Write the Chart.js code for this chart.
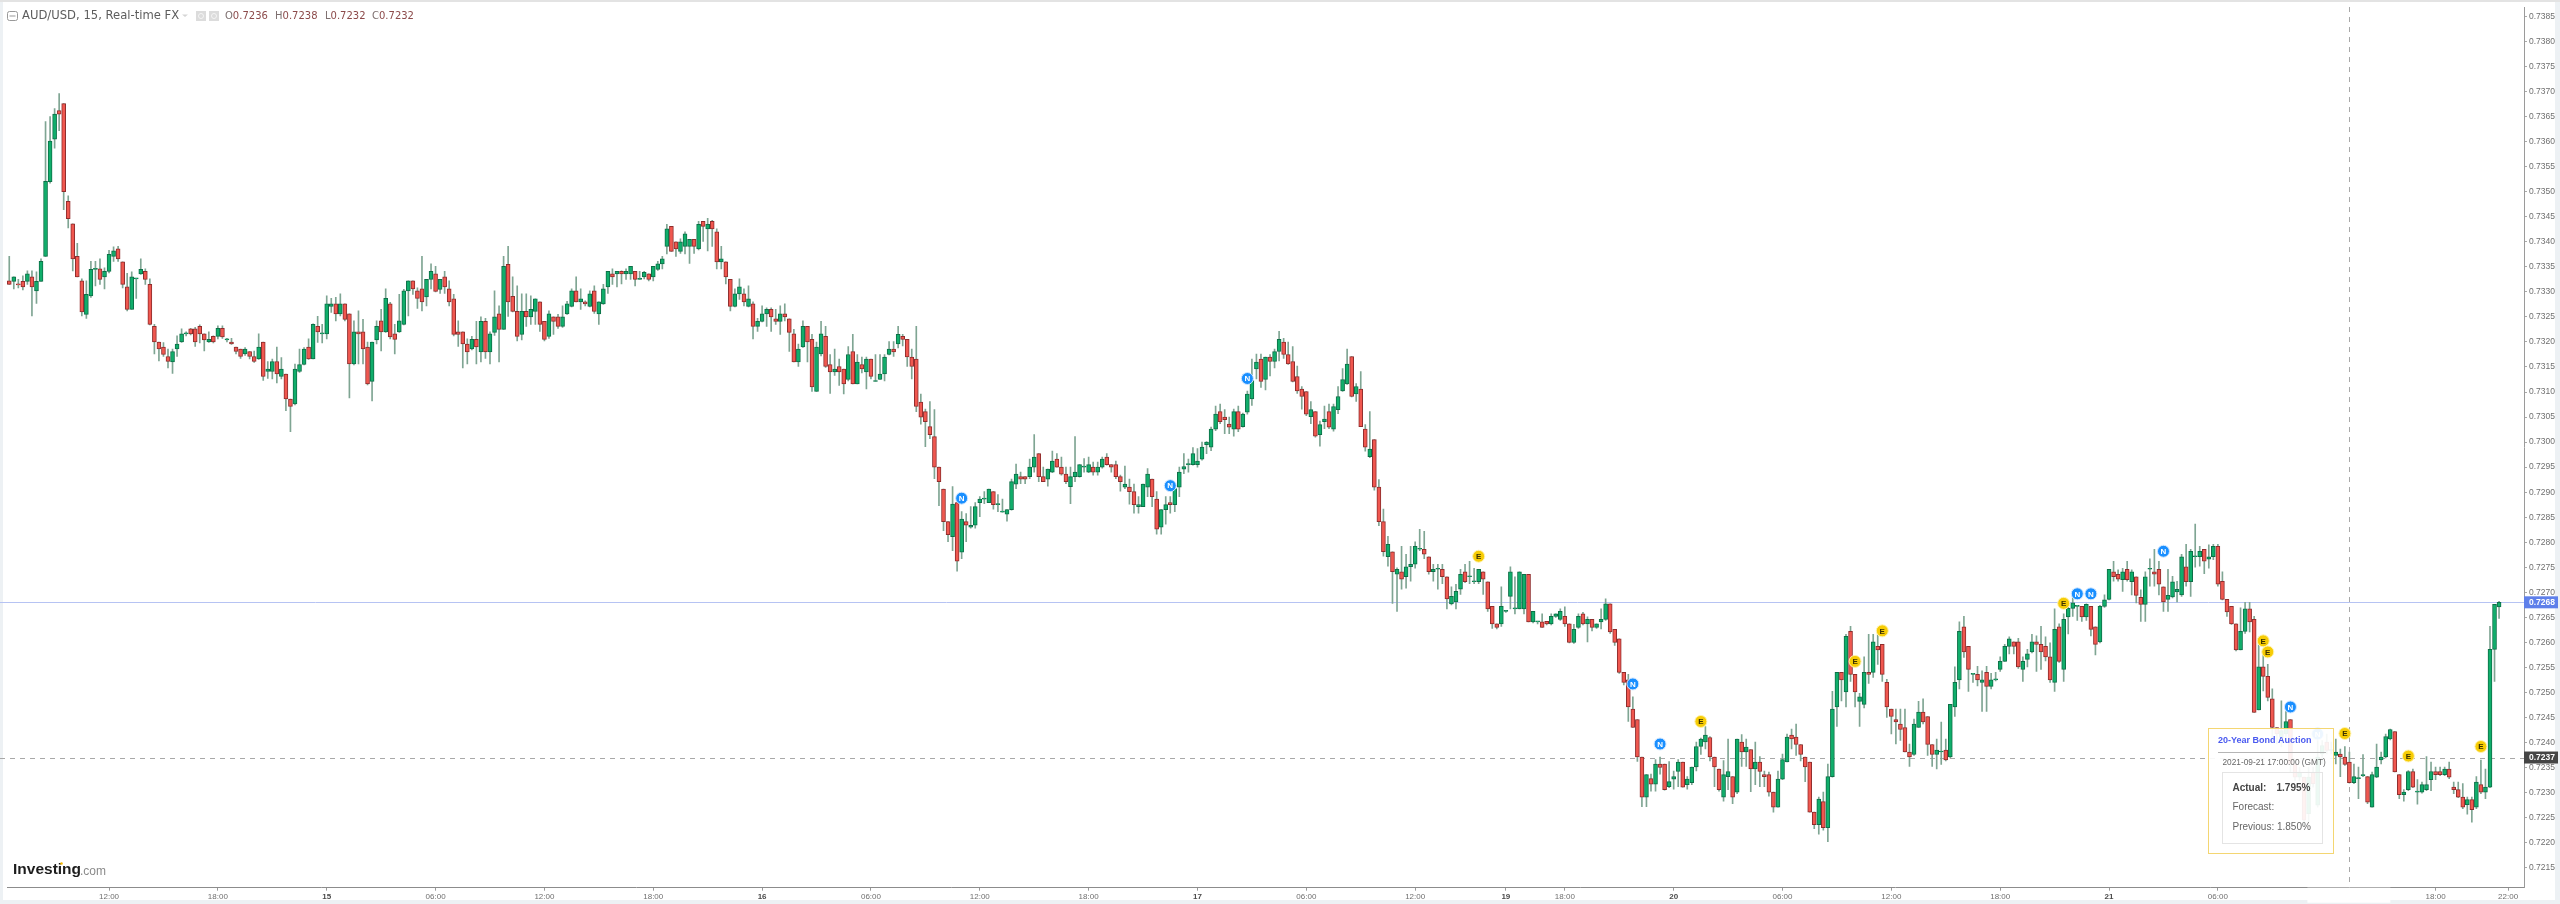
<!DOCTYPE html>
<html>
<head>
<meta charset="utf-8">
<title>AUD/USD, 15</title>
<script src="https://cdn.jsdelivr.net/npm/chart.js@4"></script>
<style>
    html, body { margin: 0; padding: 0; background: #fff; }
    #wrap { position: relative; width: 2560px; height: 904px; }
    canvas { display: block; }
</style>
</head>
<body>
<div id="wrap"><canvas id="chart" width="2560" height="904"></canvas></div>
<script>
// ============================
// Data (prices in 1e-5, one entry per 15 min candle)
// ============================

const opens = [
    73322,73321,73315,73321,73321,73330,73302,73321,73371,73520,
    73605,73662,73676,73481,73436,73371,73322,73255,73292,73345,
    73346,73330,73341,73371,73386,73360,73310,73265,73326,73336,
    73341,73315,73231,73200,73190,73171,73160,73186,73200,73216,
    73226,73226,73231,73216,73200,73211,73211,73227,73204,73200,
    73190,73186,73176,73181,73171,73166,73200,73141,73141,73161,
    73131,73136,73086,73076,73141,73155,73190,73166,73231,73216,
    73216,73271,73276,73256,73276,73256,73156,73220,73220,73190,
    73121,73204,73242,73220,73276,73216,73220,73235,73302,73322,
    73302,73306,73290,73325,73336,73305,73330,73306,73286,73220,
    73220,73196,73186,73205,73180,73241,73180,73219,73256,73225,
    73355,73291,73261,73215,73261,73250,73261,73280,73241,73211,
    73250,73250,73231,73256,73271,73302,73280,73280,73271,73302,
    73256,73276,73310,73336,73336,73341,73336,73336,73341,73325,
    73330,73336,73330,73345,73356,73391,73431,73400,73381,73391,
    73391,73405,73386,73441,73426,73441,73420,73360,73360,73325,
    73271,73296,73296,73271,73276,73231,73241,73256,73265,73246,
    73241,73256,73246,73216,73160,73190,73231,73205,73101,73176,
    73211,73155,73140,73151,73146,73125,73181,73116,73155,73140,
    73166,73121,73125,73136,73175,73186,73196,73211,73205,73170,
    73166,73080,73061,73031,73011,72950,72906,72841,72811,72879,
    72780,72841,72830,72834,72879,72886,72879,72901,72875,72860,
    72856,72865,72916,72931,72931,72931,72950,72977,72931,72926,
    72940,72966,72950,72936,72911,72931,72931,72950,72940,72950,
    72940,72950,72970,72955,72955,72931,72910,72910,72901,72871,
    72871,72910,72926,72886,72830,72865,72879,72875,72910,72946,
    72955,72955,72955,72966,72995,72990,73026,73061,73050,73036,
    73026,73061,73031,73060,73086,73146,73166,73125,73170,73161,
    73181,73200,73175,73161,73131,73106,73101,73051,73061,73015,
    73041,73061,73026,73065,73102,73116,73171,73096,73106,73026,
    72971,73005,72910,72841,72771,72781,72736,72741,72731,72751,
    72756,72786,72786,72771,72741,72746,72746,72731,72677,72681,
    72706,72741,72731,72721,72721,72741,72721,72672,72637,72637,
    72662,72692,72667,72667,72667,72736,72641,72641,72641,72642,
    72637,72652,72646,72652,72637,72600,72630,72657,72637,72646,
    72630,72641,72646,72677,72626,72607,72540,72525,72467,72446,
    72371,72291,72328,72317,72357,72357,72312,72327,72342,72361,
    72316,72320,72351,72392,72401,72410,72371,72347,72291,72332,
    72332,72301,72401,72381,72386,72347,72361,72336,72336,72301,
    72271,72327,72361,72415,72411,72396,72371,72361,72261,72236,
    72282,72230,72332,72471,72540,72501,72622,72536,72482,72476,
    72540,72540,72592,72596,72520,72467,72446,72437,72430,72381,
    72376,72430,72461,72452,72396,72376,72381,72385,72371,72471,
    72525,72631,72592,72536,72536,72520,72540,72512,72525,72546,
    72562,72592,72601,72601,72546,72566,72581,72601,72596,72592,
    72571,72520,72631,72546,72651,72668,72672,72672,72651,72672,
    72631,72601,72672,72686,72741,72736,72725,72746,72721,72731,
    72690,72676,72746,72741,72746,72711,72686,72691,72701,72695,
    72751,72721,72771,72771,72786,72766,72771,72792,72722,72686,
    72672,72637,72585,72622,72667,72646,72465,72551,72532,72487,
    72430,72410,72417,72446,72357,72331,72331,72258,72341,72275,
    72377,72401,72384,72374,72377,72371,72361,72320,72328,72334,
    72332,72271,72331,72365,72371,72407,72422,72336,72296,72306,
    72342,72301,72301,72306,72326,72342,72342,72336,72347,72311,
    72306,72291,72276,72286,72271,72316,72301,72311,72586,72671
];

const highs = [
    73371,73330,73325,73332,73342,73342,73340,73366,73640,73650,
    73666,73696,73676,73492,73436,73397,73326,73322,73361,73361,
    73366,73348,73383,73390,73391,73360,73337,73340,73326,73366,
    73346,73326,73235,73200,73199,73186,73186,73212,73226,73220,
    73227,73229,73234,73216,73220,73212,73232,73232,73207,73207,
    73190,73186,73189,73181,73182,73216,73200,73161,73166,73190,
    73169,73136,73086,73156,73186,73189,73206,73236,73251,73235,
    73292,73287,73289,73296,73276,73256,73242,73262,73245,73200,
    73200,73242,73265,73306,73279,73235,73295,73305,73322,73322,
    73308,73371,73325,73356,73351,73325,73341,73322,73295,73242,
    73220,73206,73211,73241,73250,73247,73220,73302,73272,73371,
    73391,73330,73312,73296,73296,73292,73286,73280,73241,73262,
    73250,73255,73272,73281,73306,73330,73306,73282,73302,73312,
    73280,73315,73341,73346,73341,73342,73346,73351,73341,73341,
    73341,73336,73351,73361,73371,73435,73431,73400,73406,73420,
    73405,73405,73441,73441,73447,73443,73426,73391,73360,73325,
    73306,73326,73306,73312,73280,73247,73272,73268,73268,73265,
    73272,73276,73246,73225,73196,73242,73231,73215,73200,73241,
    73231,73175,73186,73166,73146,73191,73215,73175,73170,73170,
    73166,73175,73175,73175,73201,73201,73231,73215,73205,73186,
    73231,73096,73066,73081,73065,72950,72906,72841,72911,72879,
    72861,72857,72871,72879,72891,72901,72906,72901,72895,72886,
    72865,72926,72956,72940,72931,72966,73015,72977,72950,72946,
    72982,72977,72970,72950,72950,73011,72955,72967,72970,72960,
    72960,72970,72977,72955,72962,72934,72952,72926,72916,72891,
    72916,72947,72926,72901,72865,72891,72891,72914,72950,72977,
    72966,72989,72987,73000,73001,73030,73072,73076,73065,73050,
    73066,73072,73058,73102,73166,73176,73176,73170,73175,73186,
    73221,73207,73200,73191,73152,73111,73101,73081,73061,73042,
    73072,73076,73076,73111,73147,73186,73171,73117,73141,73035,
    73061,73005,72925,72866,72812,72781,72749,72792,72776,72792,
    72801,72826,72822,72771,72756,72756,72756,72731,72711,72716,
    72746,72756,72762,72748,72746,72741,72721,72672,72637,72711,
    72664,72751,72731,72741,72736,72736,72662,72641,72657,72642,
    72657,72657,72667,72671,72637,72636,72657,72660,72651,72646,
    72637,72667,72687,72677,72626,72607,72540,72536,72491,72446,
    72371,72336,72337,72366,72371,72357,72362,72343,72366,72361,
    72332,72351,72401,72409,72432,72412,72371,72347,72364,72407,
    72332,72407,72416,72407,72386,72401,72372,72343,72341,72301,
    72343,72377,72417,72427,72437,72396,72371,72361,72261,72291,
    72301,72357,72502,72540,72540,72616,72632,72536,72498,72571,
    72616,72616,72616,72596,72526,72467,72467,72467,72467,72397,
    72447,72482,72487,72452,72396,72407,72441,72407,72476,72551,
    72641,72652,72592,72536,72552,72543,72552,72538,72540,72571,
    72596,72611,72601,72608,72571,72586,72616,72613,72632,72611,
    72599,72667,72637,72657,72682,72692,72672,72672,72677,72672,
    72631,72674,72695,72746,72762,72745,72748,72762,72745,72731,
    72705,72741,72767,72786,72762,72711,72746,72732,72722,72776,
    72796,72786,72836,72792,72786,72795,72796,72796,72741,72686,
    72672,72637,72669,72680,72680,72652,72596,72576,72556,72507,
    72430,72483,72462,72446,72357,72351,72331,72351,72351,72427,
    72404,72417,72401,72407,72387,72392,72381,72357,72351,72376,
    72332,72341,72397,72381,72417,72427,72422,72336,72306,72344,
    72347,72326,72321,72372,72361,72351,72351,72351,72361,72321,
    72321,72318,72291,72291,72332,72365,72347,72632,72676,72682
];

const lows = [
    73315,73306,73308,73304,73315,73252,73277,73321,73371,73517,
    73587,73622,73464,73428,73342,73330,73252,73247,73289,73312,
    73315,73306,73338,73361,73361,73308,73262,73265,73287,73335,
    73315,73234,73176,73162,73171,73148,73137,73171,73199,73212,
    73214,73191,73198,73182,73199,73198,73206,73207,73200,73195,
    73176,73167,73173,73166,73159,73165,73123,73127,73126,73118,
    73126,73063,73021,73074,73139,73154,73165,73166,73199,73198,
    73206,73259,73242,73252,73242,73088,73154,73156,73156,73114,
    73082,73196,73182,73219,73206,73176,73219,73234,73252,73295,
    73267,73262,73272,73306,73300,73297,73297,73272,73212,73191,
    73148,73156,73184,73156,73160,73167,73156,73213,73160,73225,
    73251,73260,73202,73204,73231,73235,73235,73221,73202,73207,
    73215,73227,73229,73255,73270,73280,73265,73272,73270,73257,
    73235,73275,73297,73315,73310,73316,73325,73325,73312,73325,
    73326,73322,73322,73343,73346,73376,73381,73371,73377,73376,
    73357,73377,73384,73401,73382,73391,73346,73346,73316,73262,
    73270,73285,73272,73270,73206,73221,73240,73231,73221,73235,
    73215,73242,73181,73160,73151,73189,73160,73101,73101,73172,
    73149,73097,73133,73113,73096,73122,73116,73116,73138,73106,
    73126,73121,73125,73122,73174,73171,73188,73192,73151,73126,
    73061,73036,72991,73007,72927,72873,72823,72801,72783,72742,
    72767,72801,72828,72828,72851,72877,72879,72866,72861,72860,
    72842,72864,72907,72917,72917,72927,72940,72921,72921,72912,
    72939,72950,72934,72917,72877,72921,72930,72940,72939,72934,
    72934,72948,72954,72940,72927,72902,72907,72876,72858,72858,
    72871,72891,72871,72816,72816,72836,72858,72861,72891,72937,
    72940,72954,72950,72964,72977,72983,73023,73037,73017,73017,
    73012,73021,73030,73056,73073,73126,73109,73104,73132,73148,
    73162,73167,73155,73120,73097,73066,73053,73037,73010,72992,
    73027,73027,73022,73057,73101,73115,73090,73081,73031,72982,
    72969,72904,72833,72772,72752,72678,72662,72706,72708,72722,
    72748,72783,72767,72736,72722,72706,72717,72667,72675,72667,
    72696,72719,72717,72717,72717,72696,72662,72628,72627,72632,
    72660,72667,72657,72667,72657,72641,72639,72637,72630,72635,
    72635,72650,72644,72632,72599,72598,72628,72635,72601,72623,
    72628,72627,72644,72618,72594,72538,72515,72442,72430,72362,
    72272,72272,72303,72303,72337,72305,72310,72307,72312,72311,
    72307,72316,72343,72376,72387,72363,72312,72303,72283,72306,
    72278,72298,72352,72352,72302,72316,72312,72312,72293,72261,
    72271,72326,72361,72387,72374,72363,72322,72261,72228,72217,
    72225,72202,72331,72432,72483,72471,72522,72471,72432,72469,
    72518,72530,72556,72522,72450,72417,72397,72404,72381,72352,
    72374,72430,72437,72374,72352,72347,72356,72363,72369,72452,
    72507,72570,72502,72520,72513,72462,72462,72507,72523,72542,
    72562,72577,72577,72548,72522,72551,72579,72542,72546,72563,
    72520,72502,72560,72522,72617,72652,72644,72642,72644,72613,
    72575,72599,72670,72685,72722,72722,72702,72722,72695,72679,
    72642,72642,72712,72712,72695,72662,72662,72689,72681,72692,
    72712,72692,72750,72752,72737,72748,72765,72712,72685,72652,
    72636,72583,72585,72618,72621,72460,72465,72503,72483,72404,
    72397,72391,72410,72341,72324,72324,72232,72241,72311,72271,
    72357,72377,72377,72357,72332,72354,72319,72318,72288,72332,
    72278,72271,72330,72357,72369,72405,72341,72288,72283,72304,
    72310,72277,72299,72304,72304,72326,72334,72334,72328,72298,
    72290,72268,72257,72241,72268,72298,72288,72310,72522,72648
];

const closes = [
    73315,73330,73314,73310,73336,73310,73321,73361,73521,73601,
    73655,73655,73500,73446,73366,73330,73260,73295,73345,73345,
    73325,73341,73375,73382,73366,73315,73265,73330,73326,73345,
    73325,73235,73200,73186,73175,73161,73181,73196,73216,73216,
    73216,73200,73216,73204,73205,73200,73227,73210,73204,73196,
    73181,73171,73186,73171,73161,73190,73131,73146,73161,73136,
    73146,73086,73071,73146,73155,73186,73166,73235,73220,73216,
    73276,73276,73256,73276,73245,73156,73220,73216,73186,73116,
    73200,73231,73220,73287,73210,73205,73242,73302,73322,73306,
    73287,73280,73325,73341,73301,73325,73310,73280,73215,73215,
    73196,73180,73205,73190,73241,73180,73216,73250,73225,73351,
    73280,73261,73211,73261,73250,73265,73286,73235,73205,73256,
    73241,73231,73250,73276,73302,73280,73286,73276,73296,73261,
    73280,73306,73341,73330,73341,73336,73341,73351,73325,73325,
    73339,73325,73351,73356,73366,73426,73381,73386,73400,73416,
    73405,73391,73435,73431,73435,73426,73360,73366,73330,73271,
    73296,73310,73280,73286,73231,73241,73256,73265,73250,73241,
    73256,73250,73219,73160,73186,73231,73200,73110,73190,73216,
    73151,73140,73146,73140,73116,73175,73116,73160,73146,73166,
    73131,73121,73136,73170,73186,73180,73215,73205,73170,73151,
    73071,73050,73041,73015,72950,72921,72841,72815,72876,72762,
    72846,72834,72834,72871,72886,72886,72906,72875,72875,72860,
    72865,72921,72936,72926,72926,72950,72970,72931,72921,72946,
    72962,72950,72936,72921,72931,72940,72955,72950,72955,72940,
    72950,72966,72955,72950,72931,72921,72916,72901,72875,72875,
    72916,72936,72891,72826,72865,72875,72875,72907,72940,72951,
    72955,72977,72962,72990,73000,73026,73056,73041,73045,73030,
    73061,73026,73056,73096,73123,73160,73121,73170,73161,73181,
    73205,73175,73156,73121,73102,73091,73056,73065,73012,73035,
    73046,73030,73071,73091,73125,73156,73091,73111,73031,72990,
    72986,72910,72841,72781,72796,72741,72746,72726,72751,72756,
    72792,72786,72776,72741,72746,72746,72731,72687,72692,72702,
    72736,72721,72731,72721,72746,72726,72667,72637,72630,72672,
    72662,72741,72667,72741,72736,72641,72662,72641,72630,72637,
    72652,72657,72662,72637,72600,72626,72652,72637,72646,72630,
    72637,72646,72677,72621,72600,72540,72520,72471,72430,72371,
    72291,72336,72317,72357,72350,72306,72322,72332,72361,72311,
    72327,72351,72392,72407,72415,72371,72351,72306,72336,72342,
    72291,72407,72381,72391,72347,72361,72342,72332,72301,72271,
    72327,72366,72411,72407,72396,72376,72351,72261,72236,72287,
    72230,72332,72467,72540,72525,72612,72536,72501,72491,72540,
    72536,72601,72585,72536,72471,72452,72441,72426,72381,72371,
    72437,72461,72441,72396,72376,72385,72381,72365,72476,72520,
    72622,72581,72546,72536,72525,72525,72512,72525,72525,72562,
    72592,72607,72592,72551,72562,72577,72601,72596,72581,72571,
    72525,72626,72562,72646,72668,72679,72672,72651,72676,72626,
    72596,72672,72685,72746,72731,72726,72741,72725,72741,72694,
    72676,72731,72746,72736,72716,72681,72694,72721,72706,72771,
    72721,72782,72771,72782,72762,72771,72792,72716,72686,72661,
    72637,72585,72622,72667,72641,72460,72551,72532,72490,72430,
    72417,72424,72442,72357,72331,72341,72245,72331,72318,72371,
    72394,72384,72384,72381,72371,72356,72320,72332,72328,72334,
    72281,72336,72351,72371,72412,72426,72341,72296,72301,72342,
    72311,72301,72316,72316,72342,72336,72336,72347,72331,72306,
    72291,72271,72286,72266,72321,72301,72311,72586,72676,72680
];

// Candle slots on the axis, the last few stay empty
const slotCount = 555;
const categories = Array.from({ length: slotCount }, (_, i) => i);

const xTickSlots = [22, 46, 70, 94, 118, 142, 166, 190, 214, 238, 262, 286, 310, 330, 343, 367, 391, 415, 439, 463, 487, 511, 535, 551];
const xTickLabels = ['12:00', '18:00', '15', '06:00', '12:00', '18:00', '16', '06:00', '12:00', '18:00', '17', '06:00', '12:00', '19', '18:00', '20', '06:00', '12:00', '18:00', '21', '06:00', '12:00', '18:00', '22:00'];

const yTicks = [
    0.7385, 0.7380, 0.7375, 0.7370, 0.7365, 0.7360, 0.7355, 0.7350, 0.7345, 0.7340, 0.7335, 0.7330,
    0.7325, 0.7320, 0.7315, 0.7310, 0.7305, 0.7300, 0.7295, 0.7290, 0.7285, 0.7280, 0.7275, 0.7270,
    0.7265, 0.7260, 0.7255, 0.7250, 0.7245, 0.7240, 0.7235, 0.7230, 0.7225, 0.7220, 0.7215
];

const earningsSlots = [324, 373, 407, 413, 453, 497, 498, 515, 529, 545];
const earningsPrices = [72772, 72442, 72562, 72623, 72678, 72603, 72581, 72418, 72373, 72392];
const newsSlots = [210, 256, 273, 358, 364, 456, 459, 475, 503, 509];
const newsPrices = [72888, 72913, 73127, 72517, 72397, 72697, 72697, 72782, 72471, 72417];

const lastPrice = 0.7268;
const crossPrice = 0.7237;
const crossSlot = 516;

// ============================
// Helpers
// ============================

const PRICE_UNIT = 100000;
const FONT = '"Liberation Sans", Arial, sans-serif';

function markerSeries(slots, prices) {
    const data = new Array(slotCount).fill(null);
    slots.forEach((s, i) => { data[s] = prices[i] / PRICE_UNIT; });
    return data;
}

const isUp = opens.map((o, i) => closes[i] >= o);

function drawText(ctx, text, x, y, font, color, align) {
    ctx.font = font;
    ctx.fillStyle = color;
    ctx.textAlign = align || 'left';
    ctx.textBaseline = 'middle';
    ctx.fillText(text, x, y);
}

// the tick labels must not push the plot area in
function clearScalePadding(scale) {
    scale.paddingTop = 0;
    scale.paddingBottom = 0;
    scale.paddingLeft = 0;
    scale.paddingRight = 0;
}

// ============================
// Page furniture around the chart
// ============================

const furniture = {
    id: 'furniture',
    beforeDraw(chart) {
        const { ctx, width, height } = chart;
        ctx.save();
        ctx.fillStyle = '#ffffff';
        ctx.fillRect(0, 0, width, height);
        ctx.fillStyle = '#edf1f4';
        ctx.fillRect(0, 0, 3, height);
        ctx.fillRect(width - 5, 0, 5, height);
        ctx.fillRect(0, height - 4, width, 4);
        ctx.fillStyle = '#e3e3e3';
        ctx.fillRect(0, 0, width, 2);
        ctx.restore();
    },
    beforeDatasetsDraw(chart) {
        const { ctx, chartArea, scales } = chart;
        const lastY = Math.round(scales.y.getPixelForValue(lastPrice)) + 0.5;
        const crossY = Math.round(scales.y.getPixelForValue(crossPrice)) + 0.5;
        const crossX = Math.round(scales.x.getPixelForValue(crossSlot)) + 0.5;
        ctx.save();
        ctx.lineWidth = 1;
        ctx.strokeStyle = '#b6c3f3';
        ctx.beginPath();
        ctx.moveTo(0, lastY);
        ctx.lineTo(chartArea.right, lastY);
        ctx.stroke();
        ctx.strokeStyle = '#a8a8a8';
        ctx.setLineDash([5, 5]);
        ctx.beginPath();
        ctx.moveTo(0, crossY);
        ctx.lineTo(chartArea.right, crossY);
        ctx.moveTo(crossX, chartArea.top);
        ctx.lineTo(crossX, chartArea.bottom);
        ctx.stroke();
        ctx.restore();
    },
    afterDatasetsDraw(chart) {
        const { ctx } = chart;
        [[0, 'E', '#3a3000'], [1, 'N', '#ffffff']].forEach(([offset, letter, color]) => {
            const meta = chart.getDatasetMeta(2 + offset);
            ctx.save();
            meta.data.forEach((pt, i) => {
                if (meta._parsed[i].y === null || isNaN(pt.y)) return;
                drawText(ctx, letter, pt.x, pt.y + 0.5, 'bold 8px ' + FONT, color, 'center');
            });
            ctx.restore();
        });
    },
    afterDraw(chart) {
        const { ctx, scales, chartArea } = chart;
        ctx.save();

        // legend row
        ctx.strokeStyle = '#999';
        ctx.lineWidth = 1;
        ctx.beginPath();
        ctx.roundRect(7.5, 11.5, 10, 9, 2);
        ctx.moveTo(9.5, 16);
        ctx.lineTo(15.5, 16);
        ctx.stroke();
        drawText(ctx, 'AUD/USD, 15, Real-time FX', 22, 16, '11.6px "DejaVu Sans"', '#5d5d5d');
        ctx.fillStyle = '#d5d5d5';
        ctx.beginPath();
        ctx.moveTo(182, 14.5);
        ctx.lineTo(188, 14.5);
        ctx.lineTo(185, 17);
        ctx.fill();
        ctx.fillStyle = '#dcdcdc';
        ctx.fillRect(196, 11, 10, 10);
        ctx.fillRect(209, 11, 10, 10);
        ctx.strokeStyle = '#f4f4f4';
        ctx.beginPath();
        ctx.arc(201, 16, 2.5, 0, Math.PI * 2);
        ctx.moveTo(216.5, 16);
        ctx.arc(214, 16, 2.5, 0, Math.PI * 2);
        ctx.stroke();
        [['O', '0.7236', 225], ['H', '0.7238', 275], ['L', '0.7232', 325], ['C', '0.7232', 372]].forEach(([name, value, x]) => {
            drawText(ctx, name, x, 16, '10px "DejaVu Sans"', '#7d6f6f');
            const w = ctx.measureText(name).width;
            drawText(ctx, value, x + w, 16, '10px "DejaVu Sans"', '#8c4a4a');
        });

        // logo
        drawText(ctx, 'Investing', 13, 870, 'bold 15.5px ' + FONT, '#1d1d1d');
        drawText(ctx, '.com', 80, 872, '12px ' + FONT, '#8a8a8a');
        ctx.fillStyle = '#f2b705';
        ctx.beginPath();
        ctx.arc(61.5, 863.5, 1.3, 0, Math.PI * 2);
        ctx.fill();

        // event popup, the candles show faintly through it
        ctx.fillStyle = 'rgba(255, 255, 255, 0.92)';
        ctx.fillRect(2208, 728, 126, 125);
        ctx.strokeStyle = '#f4d672';
        ctx.strokeRect(2208.5, 728.5, 125, 125);
        drawText(ctx, '20-Year Bond Auction', 2218, 741, 'bold 9px ' + FONT, '#4a5af0');
        ctx.strokeStyle = '#b5b5b5';
        ctx.beginPath();
        ctx.moveTo(2218, 752.5);
        ctx.lineTo(2326, 752.5);
        ctx.stroke();
        drawText(ctx, '2021-09-21 17:00:00 (GMT)', 2222.5, 763, '8.3px ' + FONT, '#666');
        ctx.strokeStyle = '#e4e4e4';
        ctx.strokeRect(2222.5, 772.5, 100, 71);
        drawText(ctx, 'Actual:', 2232.5, 788, 'bold 10px ' + FONT, '#444');
        drawText(ctx, '1.795%', 2276.5, 788, 'bold 10px ' + FONT, '#444');
        drawText(ctx, 'Forecast:', 2232.5, 807.5, '10px ' + FONT, '#666');
        drawText(ctx, 'Previous: 1.850%', 2232.5, 827, '10px ' + FONT, '#666');

        // axis tags
        const lastY = scales.y.getPixelForValue(lastPrice);
        ctx.fillStyle = '#5f80ea';
        ctx.fillRect(chartArea.right, lastY - 6, 34, 12);
        drawText(ctx, lastPrice.toFixed(4), chartArea.right + 5, lastY + 0.5, 'bold 8.5px ' + FONT, '#fff');
        const crossY = scales.y.getPixelForValue(crossPrice);
        ctx.fillStyle = '#454545';
        ctx.fillRect(chartArea.right, crossY - 6, 34, 12);
        drawText(ctx, crossPrice.toFixed(4), chartArea.right + 5, crossY + 0.5, 'bold 8.5px ' + FONT, '#fff');
        const crossX = scales.x.getPixelForValue(crossSlot);
        ctx.fillRect(crossX - 42, chartArea.bottom, 83, 15);
        drawText(ctx, '2021-09-21 13:15:00', crossX - 0.5, chartArea.bottom + 8, 'bold 8.5px ' + FONT, '#fff', 'center');

        ctx.restore();
    }
};

// ============================
// Chart
// ============================

new Chart(document.getElementById('chart'), {
    type: 'bar',
    data: {
        labels: categories,
        datasets: [
            {
                label: 'Body',
                order: 2,
                data: opens.map((o, i) => [o / PRICE_UNIT, closes[i] / PRICE_UNIT]),
                backgroundColor: isUp.map(up => up ? '#10ae6b' : '#f0574f'),
                borderColor: isUp.map(up => up ? '#0d6f47' : '#8e2d2d'),
                borderWidth: 1,
                borderSkipped: false,
                barThickness: 4,
                minBarLength: 1,
                grouped: false
            },
            {
                label: 'Wick',
                order: 3,
                data: lows.map((l, i) => [l / PRICE_UNIT, highs[i] / PRICE_UNIT]),
                backgroundColor: '#7fa593',
                barThickness: 1,
                grouped: false
            },
            {
                type: 'line',
                label: 'Economic',
                order: 1,
                data: markerSeries(earningsSlots, earningsPrices),
                showLine: false,
                pointStyle: 'circle',
                pointRadius: 6,
                pointBackgroundColor: '#f7cc05',
                pointBorderColor: '#fff3b0',
                pointBorderWidth: 1
            },
            {
                type: 'line',
                label: 'News',
                order: 0,
                data: markerSeries(newsSlots, newsPrices),
                showLine: false,
                pointStyle: 'circle',
                pointRadius: 6,
                pointBackgroundColor: '#1a8fff',
                pointBorderColor: '#d5e9ff',
                pointBorderWidth: 1
            }
        ]
    },
    plugins: [furniture],
    options: {
        responsive: false,
        animation: false,
        events: [],
        layout: {
            padding: { left: 3.73, top: 3, right: 0, bottom: 0 }
        },
        scales: {
            x: {
                type: 'category',
                offset: true,
                afterBuildTicks(scale) {
                    scale.ticks = xTickSlots.map(v => ({ value: v }));
                },
                afterFit(scale) {
                    scale.height = 16.3;
                    clearScalePadding(scale);
                },
                border: { color: '#8c8c8c', width: 1 },
                grid: {
                    offset: false,
                    drawOnChartArea: false,
                    tickLength: 3,
                    tickColor: '#999'
                },
                ticks: {
                    autoSkip: false,
                    maxRotation: 0,
                    padding: 1,
                    callback: value => xTickLabels[xTickSlots.indexOf(value)],
                    color: ctx => xTickLabels[ctx.index] && xTickLabels[ctx.index].length < 3 ? '#4a4a4a' : '#6f6f6f',
                    font: ctx => ({
                        family: FONT,
                        size: 8,
                        weight: xTickLabels[ctx.index] && xTickLabels[ctx.index].length < 3 ? 'bold' : 'normal'
                    })
                }
            },
            y: {
                position: 'right',
                min: 0.72110,
                max: 0.73869,
                afterBuildTicks(scale) {
                    scale.ticks = yTicks.map(v => ({ value: v }));
                },
                afterFit(scale) {
                    scale.width = 36;
                    clearScalePadding(scale);
                },
                border: { color: '#9a9a9a', width: 1 },
                grid: {
                    drawOnChartArea: false,
                    tickLength: 3,
                    tickColor: '#aaa'
                },
                ticks: {
                    padding: 2,
                    autoSkip: false,
                    callback: value => value.toFixed(4),
                    color: '#6f6f6f',
                    font: { family: FONT, size: 8.5 }
                }
            }
        },
        plugins: {
            legend: { display: false },
            tooltip: { enabled: false }
        }
    }
});
</script>
</body>
</html>
